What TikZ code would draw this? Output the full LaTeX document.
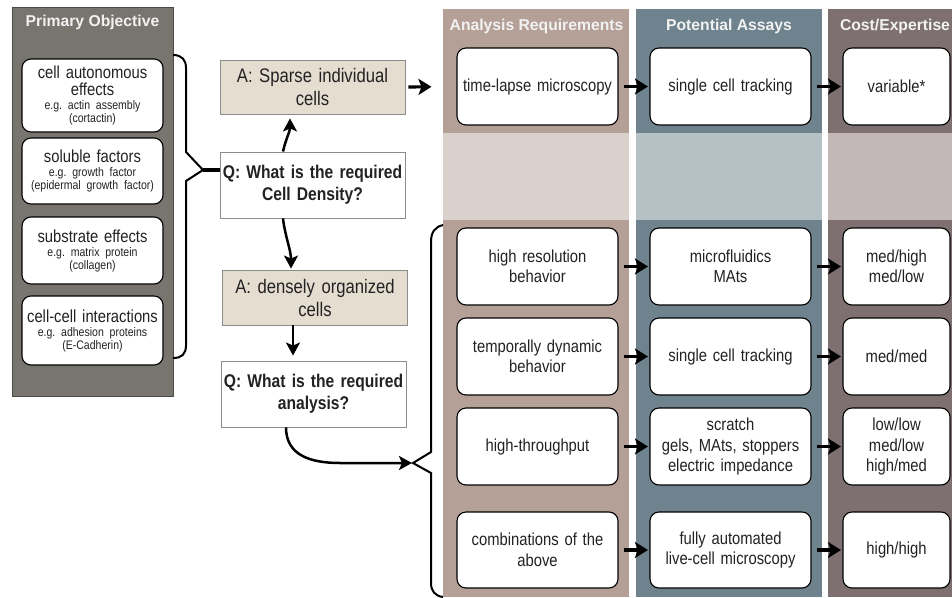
\documentclass[tikz,border=0pt]{standalone}
\usepackage{fontspec}
\setmainfont{Liberation Sans}[FakeStretch=0.85,WordSpace=0.8]
\newfontfamily\hfont{Liberation Sans}
\usetikzlibrary{arrows.meta}
\definecolor{panel}{HTML}{78756F}
\definecolor{panelborder}{HTML}{4A4A48}
\definecolor{cad}{HTML}{B4A097}
\definecolor{cal}{HTML}{DAD1CC}
\definecolor{cbd}{HTML}{6E838D}
\definecolor{cbl}{HTML}{B6C1C6}
\definecolor{ccd}{HTML}{7E6F70}
\definecolor{ccl}{HTML}{C3B8B8}
\definecolor{beige}{HTML}{E6DDD1}
\definecolor{qborder}{HTML}{8C8C8C}
\definecolor{txt}{HTML}{222222}
\definecolor{hdrtxt}{HTML}{F2F2F2}
\newcommand{\smalltxt}{\fontsize{12.4}{13}\selectfont}
\newcommand{\bigtxt}{\fontsize{17.4}{17.5}\selectfont}
\begin{document}
\begin{tikzpicture}[x=1pt,y=-1pt,
  rbox/.style={draw=black, line width=1.1pt, fill=white, rounded corners=9pt,
    align=center, inner sep=0pt, text=txt,
    font=\fontsize{17.4}{20.5}\selectfont},
  pbox/.style={rbox, minimum width=141pt, text width=137pt},
  qabox/.style={draw=qborder, line width=0.9pt, align=center, inner sep=0pt,
    minimum width=185pt, text width=181pt, text=txt},
  qbox/.style={qabox, fill=white, minimum height=66pt,
    font=\fontsize{18.4}{22}\selectfont\bfseries},
  abox/.style={qabox, fill=beige, minimum height=54pt,
    font=\fontsize{19.6}{23}\selectfont},
  hdr/.style={text=hdrtxt, font=\hfont\fontsize{15.7}{18}\selectfont\bfseries, inner sep=0pt},
  arr/.style={line width=3.2pt, -{Stealth[length=13pt,width=16pt,inset=3pt]}},
  carr/.style={line width=2.5pt, -{Stealth[length=13pt,width=14pt,inset=3pt]}},
  bracestyle/.style={line width=2pt, line join=miter},
]
\useasboundingbox (0,0) rectangle (952,597);

% ---------- left panel ----------
\draw[fill=panel, draw=panelborder, line width=0.8pt] (12,7) rectangle (173,396);
\node[hdr] (ph) at (92.5,22) {Primary Objective};

\node[pbox, minimum height=73pt] (p1) at (92.5,95.5)
  {\bigtxt cell autonomous\\effects\par\vspace{1pt}\smalltxt e.g.\ actin assembly\\(cortactin)\par};
\node[pbox, minimum height=66pt] (p2) at (92.5,171)
  {\bigtxt soluble factors\par\vspace{1pt}\smalltxt e.g.\ growth factor\\(epidermal growth factor)\par};
\node[pbox, minimum height=67pt] (p3) at (92.5,250.5)
  {\bigtxt substrate effects\par\vspace{1pt}\smalltxt e.g.\ matrix protein\\(collagen)\par};
\node[pbox, minimum height=69pt] (p4) at (92.5,330.5)
  {\bigtxt cell-cell interactions\par\vspace{1pt}\smalltxt e.g.\ adhesion proteins\\(E-Cadherin)\par};

% ---------- columns ----------
\fill[cad] (443,9) rectangle (629,133);
\fill[cal] (443,133) rectangle (629,220);
\fill[cad] (443,220) rectangle (629,597);
\fill[cbd] (636,9) rectangle (822,133);
\fill[cbl] (636,133) rectangle (822,220);
\fill[cbd] (636,220) rectangle (822,597);
\fill[ccd] (828,9) rectangle (952,133);
\fill[ccl] (828,133) rectangle (952,220);
\fill[ccd] (828,220) rectangle (952,597);

\node[hdr] (h1) at (536.5,26) {Analysis Requirements};
\node[hdr] (h2) at (729,26) {Potential Assays};
\node[hdr] (h3) at (895,26) {Cost/Expertise};

% ---------- Q / A boxes ----------
\node[abox] (a1) at (312.5,87) {A: Sparse individual\\cells};
\node[qbox] (q1) at (312.5,185) {Q: What is the required\\Cell Density?};
\node[abox, minimum height=55pt] (a2) at (315,297.5) {A: densely organized\\cells};
\node[qbox] (q2) at (313.5,394) {Q: What is the required\\analysis?};

% ---------- column boxes ----------
\tikzset{
  c1/.style={rbox, minimum width=161pt, text width=157pt, minimum height=77pt},
  c3/.style={rbox, minimum width=107pt, text width=103pt, minimum height=77pt}}
\node[c1] (t1) at (537.5,86.5) {time-lapse microscopy};
\node[c1] (t2) at (730.5,86.5) {single cell tracking};
\node[c3] (t3) at (896.5,86.5) {variable*};

\node[c1] (r1a) at (537.5,266.5) {high resolution\\behavior};
\node[c1] (r1b) at (730.5,266.5) {microfluidics\\MAts};
\node[c3] (r1c) at (896.5,266.5) {med/high\\med/low};

\node[c1] (r2a) at (537.5,356.5) {temporally dynamic\\behavior};
\node[c1] (r2b) at (730.5,356.5) {single cell tracking};
\node[c3] (r2c) at (896.5,356.5) {med/med};

\node[c1] (r3a) at (537.5,446.5) {high-throughput};
\node[c1] (r3b) at (730.5,446.5) {scratch\\gels, MAts, stoppers\\electric impedance};
\node[c3] (r3c) at (896.5,446.5) {low/low\\med/low\\high/med};

\node[c1, minimum height=76pt] (r4a) at (537.5,550) {combinations of the\\above};
\node[c1, minimum height=76pt] (r4b) at (730.5,550) {fully automated\\live-cell microscopy};
\node[c3, minimum height=76pt] (r4c) at (896.5,550) {high/high};

% ---------- box arrows ----------
\foreach \a/\b in {t1/t2,t2/t3,r1a/r1b,r1b/r1c,r2a/r2b,r2b/r2c,r3a/r3b,r3b/r3c,r4a/r4b,r4b/r4c}
  \draw[arr, shorten <=5pt, shorten >=1.5pt] (\a.east) -- (\b.west);

\draw[arr, shorten <=3pt, shorten >=25pt] (a1.east) -- (t1.west);

% ---------- braces ----------
\coordinate (bl) at (203,170);
\draw[bracestyle] (173,55) .. controls (182,55) and (186,60) .. (186,68)
  -- (186,152) -- (bl) -- (186,181) -- (186,345)
  .. controls (186,354) and (182,358) .. (173,358);
\draw[line width=4pt] (bl) -- (bl -| q1.west);

\coordinate (br) at (413,463);
\draw[bracestyle] (443,225) .. controls (435,227) and (431,232) .. (431,242)
  -- (431,452) -- (br) -- (431,473) -- (431,583)
  .. controls (431,591) and (435,596) .. (443,597);

% ---------- flow arrows ----------
\draw[carr, shorten >=4pt] ([xshift=-29.5pt]q1.north) .. controls (286,138) and (290,132) .. ([xshift=-22.5pt]a1.south);
\draw[carr, shorten >=1pt] ([xshift=-29.5pt]q1.south) .. controls (285,236) and (291,250) .. ([xshift=-24pt]a2.north);
\draw[carr, shorten >=5pt] ([xshift=-22pt]a2.south) -- ([xshift=-20.5pt]q2.north);
\draw[carr, shorten >=1pt] ([xshift=-27.5pt]q2.south) .. controls (286,455) and (310,463) .. (340,463) -- (br);
\end{tikzpicture}
\end{document}
